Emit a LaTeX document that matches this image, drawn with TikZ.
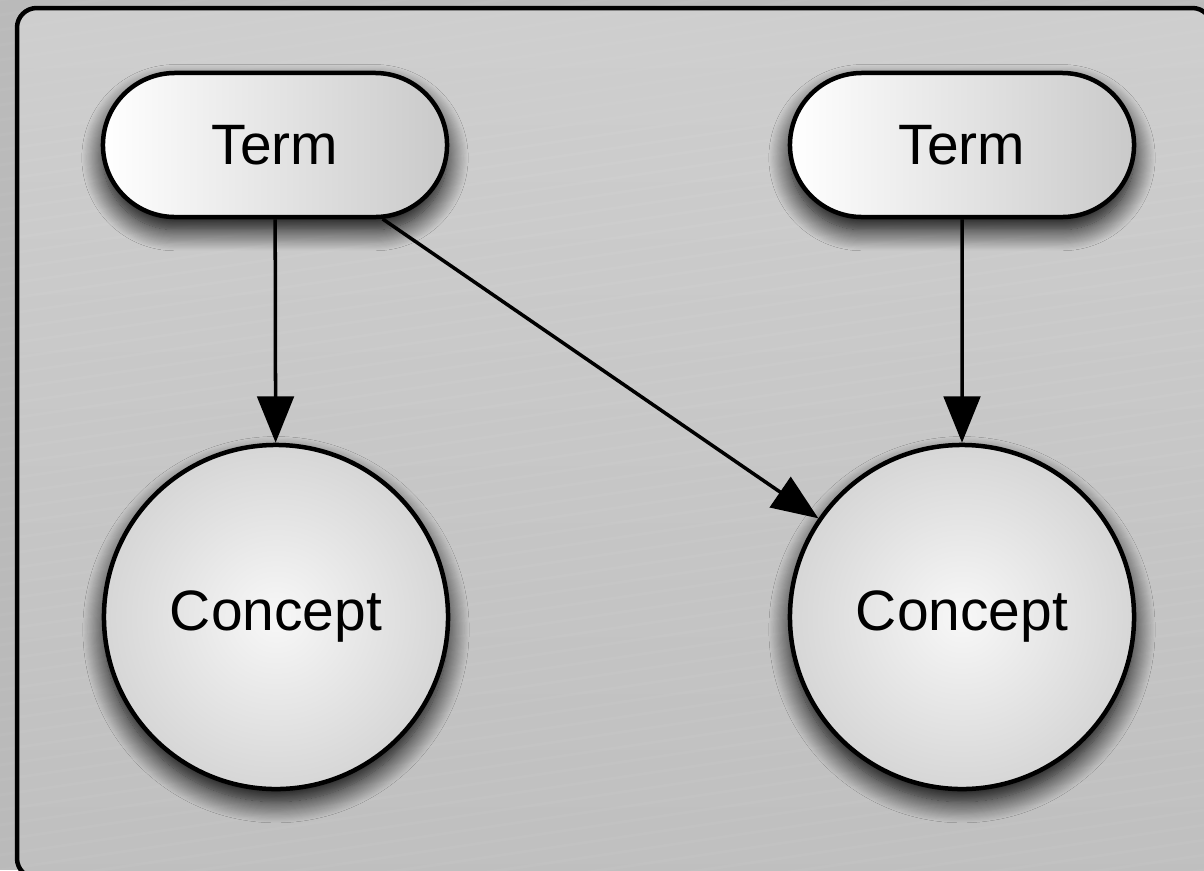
\documentclass[tikz,border=0pt]{standalone}
\usepackage{fontspec}
\setmainfont{Liberation Sans}
\usetikzlibrary{positioning,arrows.meta,shapes.misc,shadows.blur}

\tikzset{
  termbox/.style={rounded rectangle, draw=black, line width=3.2pt,
    minimum width=8.6cm, minimum height=3.6cm, inner sep=0pt,
    left color=white, right color=black!21,
    blur shadow={shadow xshift=0pt, shadow yshift=-9pt,
      shadow blur radius=15pt, shadow blur steps=20, shadow opacity=100}},
  conceptnode/.style={circle, draw=black, line width=3.2pt,
    minimum size=8.6cm, inner sep=0pt,
    inner color=white!97!black, outer color=black!16,
    blur shadow={shadow xshift=0pt, shadow yshift=-9pt,
      shadow blur radius=15pt, shadow blur steps=20, shadow opacity=100}},
  link/.style={-{Triangle[length=33pt,width=26pt]}, line width=2.5pt}
}

\begin{document}
\begin{tikzpicture}[x=0.025cm, y=-0.025cm, font=\fontsize{40.5}{48}\selectfont]
\clip (0,0) rectangle (1204,870);
\fill[black!27] (0,0) rectangle (1204,870);

% panel
\shade[top color=black!19, bottom color=black!25, rounded corners=14pt]
  (17,8) rectangle (1212,878);
\foreach \k in {0,...,70}
  \draw[white, opacity=0.04, line width=2pt] (0,\k*15) -- (1204,\k*15-180);
\draw[line width=3.2pt, rounded corners=14pt] (17,8) rectangle (1212,878);

% terms
\node[termbox] (termA) at (275,145) {Term};
\node[termbox] (termB) at (962,145) {Term};

% concepts
\node[conceptnode] (conceptA) at (276,617) {Concept};
\node[conceptnode] (conceptB) at (962,617) {Concept};

% links
\draw[link] (termA) -- (conceptA);
\draw[link] (termA) -- (conceptB);
\draw[link] (termB) -- (conceptB);
\end{tikzpicture}
\end{document}
